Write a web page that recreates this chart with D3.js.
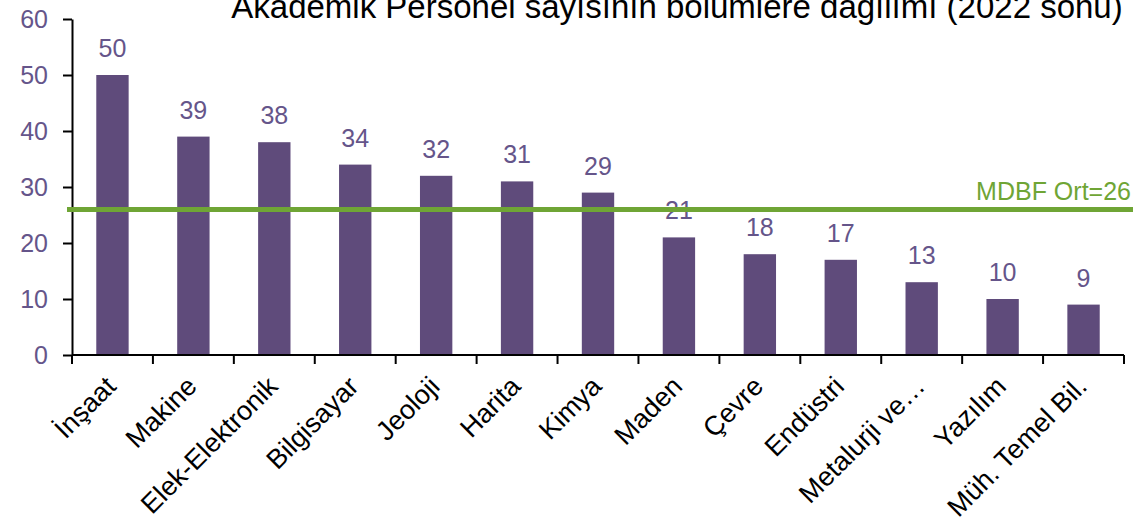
<!DOCTYPE html>
<html>
<head>
<meta charset="utf-8">
<script src="https://cdn.jsdelivr.net/npm/d3@7"></script>
<style>
  body { margin: 0; background: #fff; }
  text { font-family: "Liberation Sans", Arial, sans-serif; }
</style>
</head>
<body>
<div id="chart"></div>
<script>
// data
var categories = ["İnşaat", "Makine", "Elek-Elektronik", "Bilgisayar", "Jeoloji", "Harita", "Kimya",
                  "Maden", "Çevre", "Endüstri", "Metalurji ve…", "Yazılım", "Müh. Temel Bil."];
var values = [50, 39, 38, 34, 32, 31, 29, 21, 18, 17, 13, 10, 9];
var yTicks = [0, 10, 20, 30, 40, 50, 60];
var averageValue = 26;
var averageLabel = "MDBF Ort=26";
var title = "Akademik Personel sayısının bölümlere dağılımı (2022 sonu)";

var width = 1133, height = 527;
var plotLeft = 72, plotRight = 1124, plotTop = 19, plotBottom = 355;

var barColor = "#5f4b7b";
var labelColor = "#65558a";
var green = "#6fa535";

var svg = d3.select("#chart").append("svg")
    .attr("width", width)
    .attr("height", height);

var x = d3.scaleBand()
    .domain(categories)
    .range([plotLeft, plotRight])
    .paddingInner(0.6)
    .paddingOuter(0.3);

var y = d3.scaleLinear().domain([0, 60]).range([plotBottom, plotTop]);

// bars
svg.selectAll(".bar")
    .data(values)
    .enter().append("rect")
    .attr("class", "bar")
    .attr("x", function(d, i) { return x(categories[i]); })
    .attr("width", x.bandwidth())
    .attr("y", function(d) { return y(d); })
    .attr("height", function(d) { return y(0) - y(d); })
    .attr("fill", barColor);

// value labels
svg.selectAll(".val")
    .data(values)
    .enter().append("text")
    .attr("class", "val")
    .attr("x", function(d, i) { return x(categories[i]) + x.bandwidth() / 2; })
    .attr("y", function(d) { return y(d) - 18; })
    .attr("text-anchor", "middle")
    .style("font-size", "25px")
    .style("fill", labelColor)
    .text(function(d) { return d; });

// y axis
var yAxis = svg.append("g")
    .attr("class", "y axis")
    .attr("transform", "translate(" + plotLeft + ",0)")
    .call(d3.axisLeft(y).tickValues(yTicks).tickSize(9).tickPadding(15).tickSizeOuter(0));
yAxis.select(".domain").attr("stroke", "#000").attr("stroke-width", 2);
yAxis.selectAll(".tick line").attr("stroke", "#000").attr("stroke-width", 2);
yAxis.selectAll(".tick text")
    .style("font-size", "25px")
    .style("font-family", '"Liberation Sans", Arial, sans-serif')
    .attr("fill", labelColor);

// x axis: ticks between bands
var step = x.step();
var boundaries = d3.range(categories.length + 1).map(function(i) { return plotLeft + i * step; });
svg.append("line")
    .attr("x1", plotLeft).attr("x2", plotRight)
    .attr("y1", plotBottom).attr("y2", plotBottom)
    .attr("stroke", "#000").attr("stroke-width", 2);
svg.selectAll(".xtick")
    .data(boundaries)
    .enter().append("line")
    .attr("class", "xtick")
    .attr("x1", function(d) { return d; }).attr("x2", function(d) { return d; })
    .attr("y1", plotBottom).attr("y2", plotBottom + 9)
    .attr("stroke", "#000").attr("stroke-width", 2);

// category labels
svg.selectAll(".cat")
    .data(categories)
    .enter().append("text")
    .attr("class", "cat")
    .attr("transform", function(d) {
        return "translate(" + (x(d) + x.bandwidth() / 2 + 5) + "," + (plotBottom + 33) + ") rotate(-45)";
    })
    .attr("text-anchor", "end")
    .style("font-size", "27px")
    .style("fill", "#000")
    .text(function(d) { return d; });

// average line
svg.append("line")
    .attr("x1", 67).attr("x2", width)
    .attr("y1", y(averageValue)).attr("y2", y(averageValue))
    .attr("stroke", green).attr("stroke-width", 5);

svg.append("text")
    .attr("x", 1131)
    .attr("y", y(averageValue) - 9)
    .attr("text-anchor", "end")
    .style("font-size", "25px")
    .style("fill", green)
    .text(averageLabel);

// title
svg.append("text")
    .attr("x", 677)
    .attr("y", 18)
    .attr("text-anchor", "middle")
    .style("font-size", "33px")
    .style("fill", "#000")
    .text(title);
</script>
</body>
</html>
